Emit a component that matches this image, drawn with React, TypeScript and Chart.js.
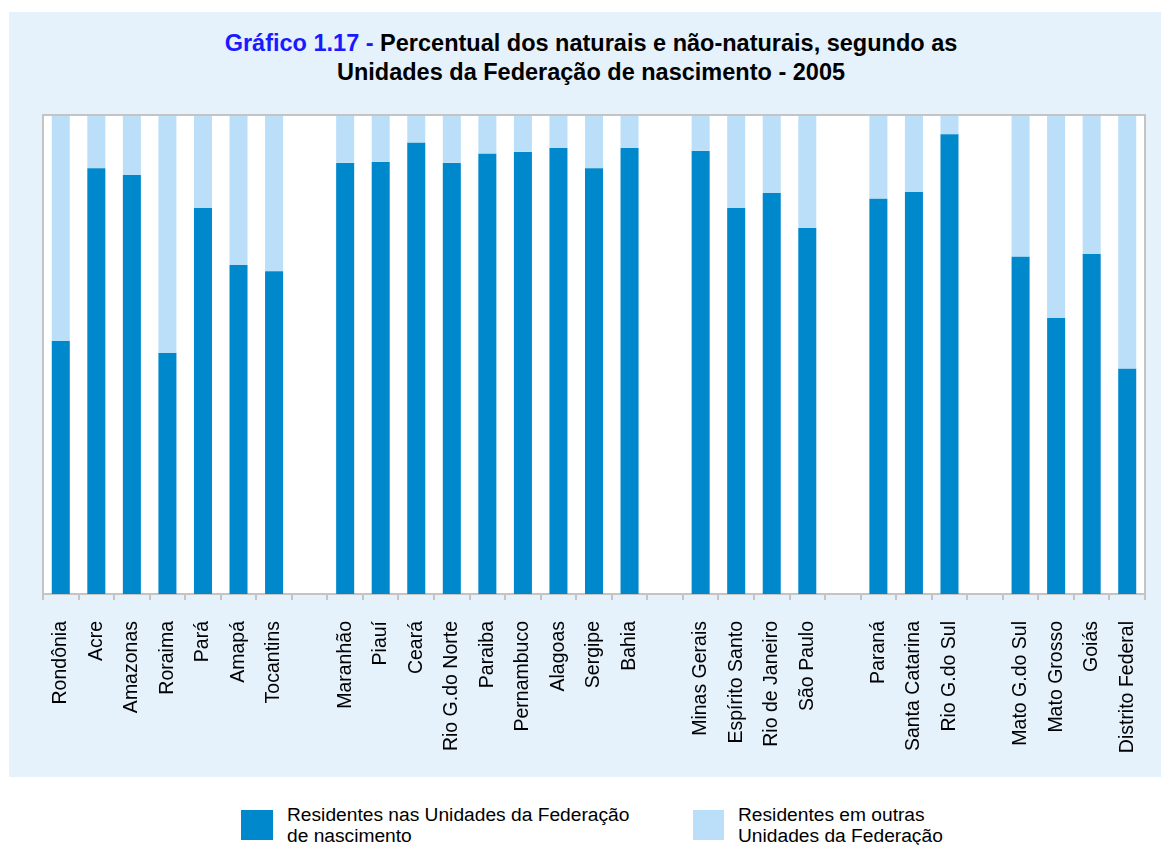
import React, { useEffect, useRef } from "react";
import { Chart, registerables } from "chart.js";

Chart.register(...registerables);

const categories: string[] = [
  "Rondônia", "Acre", "Amazonas", "Roraima", "Pará", "Amapá", "Tocantins", "",
  "Maranhão", "Piauí", "Ceará", "Rio G.do Norte", "Paraiba", "Pernambuco", "Alagoas", "Sergipe", "Bahia", "",
  "Minas Gerais", "Espírito Santo", "Rio de Janeiro", "São Paulo", "",
  "Paraná", "Santa Catarina", "Rio G.do Sul", "",
  "Mato G.do Sul", "Mato Grosso", "Goiás", "Distrito Federal",
];

const naturais: (number | null)[] = [
  52.8, 88.9, 87.5, 50.3, 80.6, 68.7, 67.4, null,
  90.0, 90.2, 94.2, 90.0, 91.9, 92.3, 93.1, 88.9, 93.1, null,
  92.5, 80.6, 83.7, 76.4, null,
  82.5, 83.9, 96.0, null,
  70.4, 57.6, 71.0, 47.0,
];

const naoNaturais: (number | null)[] = naturais.map((v) => (v === null ? null : Math.round((100 - v) * 10) / 10));

const titleBlue = "Gráfico 1.17 - ";
const titleLine1 = "Percentual dos naturais e não-naturais, segundo as";
const titleLine2 = "Unidades da Federação de nascimento - 2005";
const legendLabels: string[][] = [
  ["Residentes nas Unidades da Federação", "de nascimento"],
  ["Residentes em outras", "Unidades da Federação"],
];

const DARK = "#0088cc";
const LIGHT = "#bbdff8";
const PANEL = "#e5f1fb";
const GRAY = "#c4c4c4";
const FONT = "'Liberation Sans', Arial, Helvetica, sans-serif";

const framePlugin = {
  id: "frame",
  beforeDraw(chart: any) {
    const { ctx, chartArea } = chart;
    ctx.save();
    ctx.fillStyle = "#ffffff";
    ctx.fillRect(chartArea.left, chartArea.top, chartArea.right - chartArea.left, chartArea.bottom - chartArea.top);
    ctx.restore();
  },
  afterDraw(chart: any) {
    const { ctx, chartArea } = chart;
    ctx.save();
    ctx.strokeStyle = GRAY;
    ctx.lineWidth = 2;
    ctx.beginPath();
    ctx.moveTo(chartArea.left, chartArea.bottom);
    ctx.lineTo(chartArea.left, chartArea.top);
    ctx.lineTo(chartArea.right, chartArea.top);
    ctx.lineTo(chartArea.right, chartArea.bottom);
    ctx.stroke();
    ctx.restore();
  },
};

export default function App() {
  const ref = useRef<HTMLCanvasElement>(null);

  useEffect(() => {
    if (!ref.current) return;
    const chart = new Chart(ref.current, {
      type: "bar",
      data: {
        labels: categories,
        datasets: [
          {
            label: legendLabels[0].join(" "),
            data: naturais,
            backgroundColor: DARK,
            borderWidth: 0,
            barPercentage: 0.507,
            categoryPercentage: 1,
          },
          {
            label: legendLabels[1].join(" "),
            data: naoNaturais,
            backgroundColor: LIGHT,
            borderWidth: 0,
            barPercentage: 0.507,
            categoryPercentage: 1,
          },
        ],
      },
      options: {
        animation: false,
        responsive: false,
        maintainAspectRatio: false,
        layout: { padding: { left: 34, right: 16, top: 103, bottom: 0 } },
        plugins: {
          legend: { display: false },
          title: { display: false },
          tooltip: { enabled: false },
        },
        scales: {
          x: {
            stacked: true,
            afterFit: (scale: any) => {
              scale.height = 183;
              scale.paddingLeft = 0;
              scale.paddingRight = 0;
            },
            border: { display: true, color: GRAY, width: 2 },
            grid: {
              display: true,
              offset: true,
              drawOnChartArea: false,
              drawTicks: true,
              tickLength: 6,
              color: GRAY,
              lineWidth: 2,
            },
            ticks: {
              autoSkip: false,
              maxRotation: 90,
              minRotation: 90,
              padding: 21,
              color: "#000000",
              font: { family: FONT, size: 19.5 },
            },
          },
          y: {
            stacked: true,
            display: false,
            min: 0,
            max: 100,
          },
        },
      },
      plugins: [framePlugin],
    });
    return () => chart.destroy();
  }, []);

  return (
    <div style={{ position: "absolute", left: 0, top: 0, width: 1163, height: 845, background: "#ffffff", fontFamily: FONT }}>
      <div style={{ position: "absolute", left: 9, top: 12, width: 1152, height: 765, background: PANEL }} />
      <div
        style={{
          position: "absolute",
          left: 6,
          top: 29,
          width: 1170,
          textAlign: "center",
          fontWeight: "bold",
          fontSize: 23.5,
          lineHeight: "29px",
          color: "#000000",
        }}
      >
        <span style={{ color: "#1a1aff" }}>{titleBlue}</span>
        {titleLine1}
        <br />
        {titleLine2}
      </div>
      <canvas
        ref={ref}
        width={1152}
        height={765}
        style={{ position: "absolute", left: 9, top: 12, width: 1152, height: 765 }}
      />
      <div style={{ position: "absolute", left: 241, top: 810, width: 32, height: 30, background: DARK }} />
      <div style={{ position: "absolute", left: 287, top: 804, fontSize: 19.2, lineHeight: "21px", color: "#000" }}>
        {legendLabels[0][0]}
        <br />
        {legendLabels[0][1]}
      </div>
      <div style={{ position: "absolute", left: 693, top: 810, width: 31, height: 30, background: LIGHT }} />
      <div style={{ position: "absolute", left: 738, top: 804, fontSize: 19.2, lineHeight: "21px", color: "#000" }}>
        {legendLabels[1][0]}
        <br />
        {legendLabels[1][1]}
      </div>
    </div>
  );
}
